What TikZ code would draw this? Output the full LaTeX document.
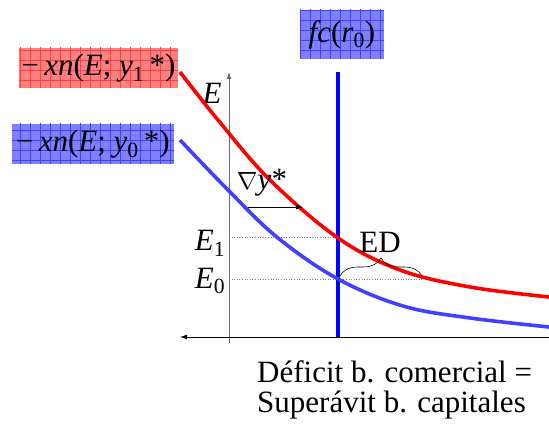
\documentclass[tikz,border=0pt]{standalone}
\usepackage{fontspec}
\setmainfont{Liberation Serif}
\usetikzlibrary{arrows.meta,decorations.pathreplacing,patterns.meta}
\definecolor{curveblue}{RGB}{64,64,255}
\tikzset{
  lbl/.style={font=\fontsize{31}{30}\selectfont,inner sep=0pt},
  tag/.style={lbl,preaction={fill=#1!50},pattern={Hatch[angle=0,distance=10pt,line width=0.5pt]},pattern color=#1!75,minimum height=40pt},
  arr/.style={-{Latex[length=7pt,width=5pt]},line width=0.8pt},
  curve/.style={line width=3.6pt,#1},
  guide/.style={gray,dotted,line width=0.6pt},
}

\begin{document}
\begin{tikzpicture}[x=1pt,y=1pt]
 \useasboundingbox (0,0) rectangle (549,430);
 % axes
 \coordinate (ytop) at (229,358); \coordinate (ybot) at (229,87);
 \coordinate (xl) at (180,93); \coordinate (xr) at (549,93);
 \draw[arr,gray!85!black] (ybot) -- (ytop);
 \draw[arr] (xr) -- (xl);
 \node[lbl] (Elbl) at (212,337) {\textit{E}};
 % guides
 \coordinate (e1) at (229,193); \coordinate (p1) at (338,193);
 \coordinate (e0) at (229,151); \coordinate (q0) at (422,151);
 \draw[guide] (e1) -- (p1);
 \draw[guide] (e0) -- (q0);
 \node[lbl] (E1) at (210,187) {\textit{E}\textsubscript{1}};
 \node[lbl] (E0) at (210,149) {\textit{E}\textsubscript{0}};
 % fc(r0)
 \coordinate (ftop) at (338,358); \coordinate (fbot) at (338,93);
 \draw[blue,line width=3.2pt] (fbot) -- (ftop);
 \node[tag=blue,minimum width=84pt,minimum height=49pt] (fc) at (342,395.5) {\textit{fc}(\textit{r}\textsubscript{0})};
 % curves
 \draw[curve=red] plot[smooth,tension=0.6] coordinates {(180,358) (218,310) (270,250) (338,192) (400,160) (470,143) (549,133)};
 \draw[curve=curveblue] plot[smooth,tension=0.6] coordinates {(180,290) (230,238) (278,192) (338,151) (403,124) (470,112) (549,103)};
 \node[tag=red,minimum width=159pt] (xn1) at (98.5,362) {\textminus\,\textit{xn}(\textit{E}; \textit{y}\textsubscript{1}\,*)};
 \node[tag=blue,minimum width=162pt] (xn0) at (93,286) {\textminus\,\textit{xn}(\textit{E}; \textit{y}\textsubscript{0}\,*)};
 % shift
 \coordinate (d0) at (248,223); \coordinate (d1) at (303,223);
 \draw[arr] (d0) -- (d1);
 \node[lbl] (dy) at (262,247) {$\nabla$\textit{y}*};
 % excess demand
 \coordinate (b0) at (340,154); \coordinate (b1) at (422,154);
 \draw[decorate,decoration={brace,amplitude=18pt},line width=0.6pt] (b0) -- (b1);
 \node[lbl] (ED) at (380,188) {ED};
 \node[lbl,anchor=base west] (foot1) at (257,47) {Déficit b. comercial =};
 \node[lbl,anchor=base west] (foot2) at (257,17) {Superávit b. capitales};
\end{tikzpicture}
\end{document}
